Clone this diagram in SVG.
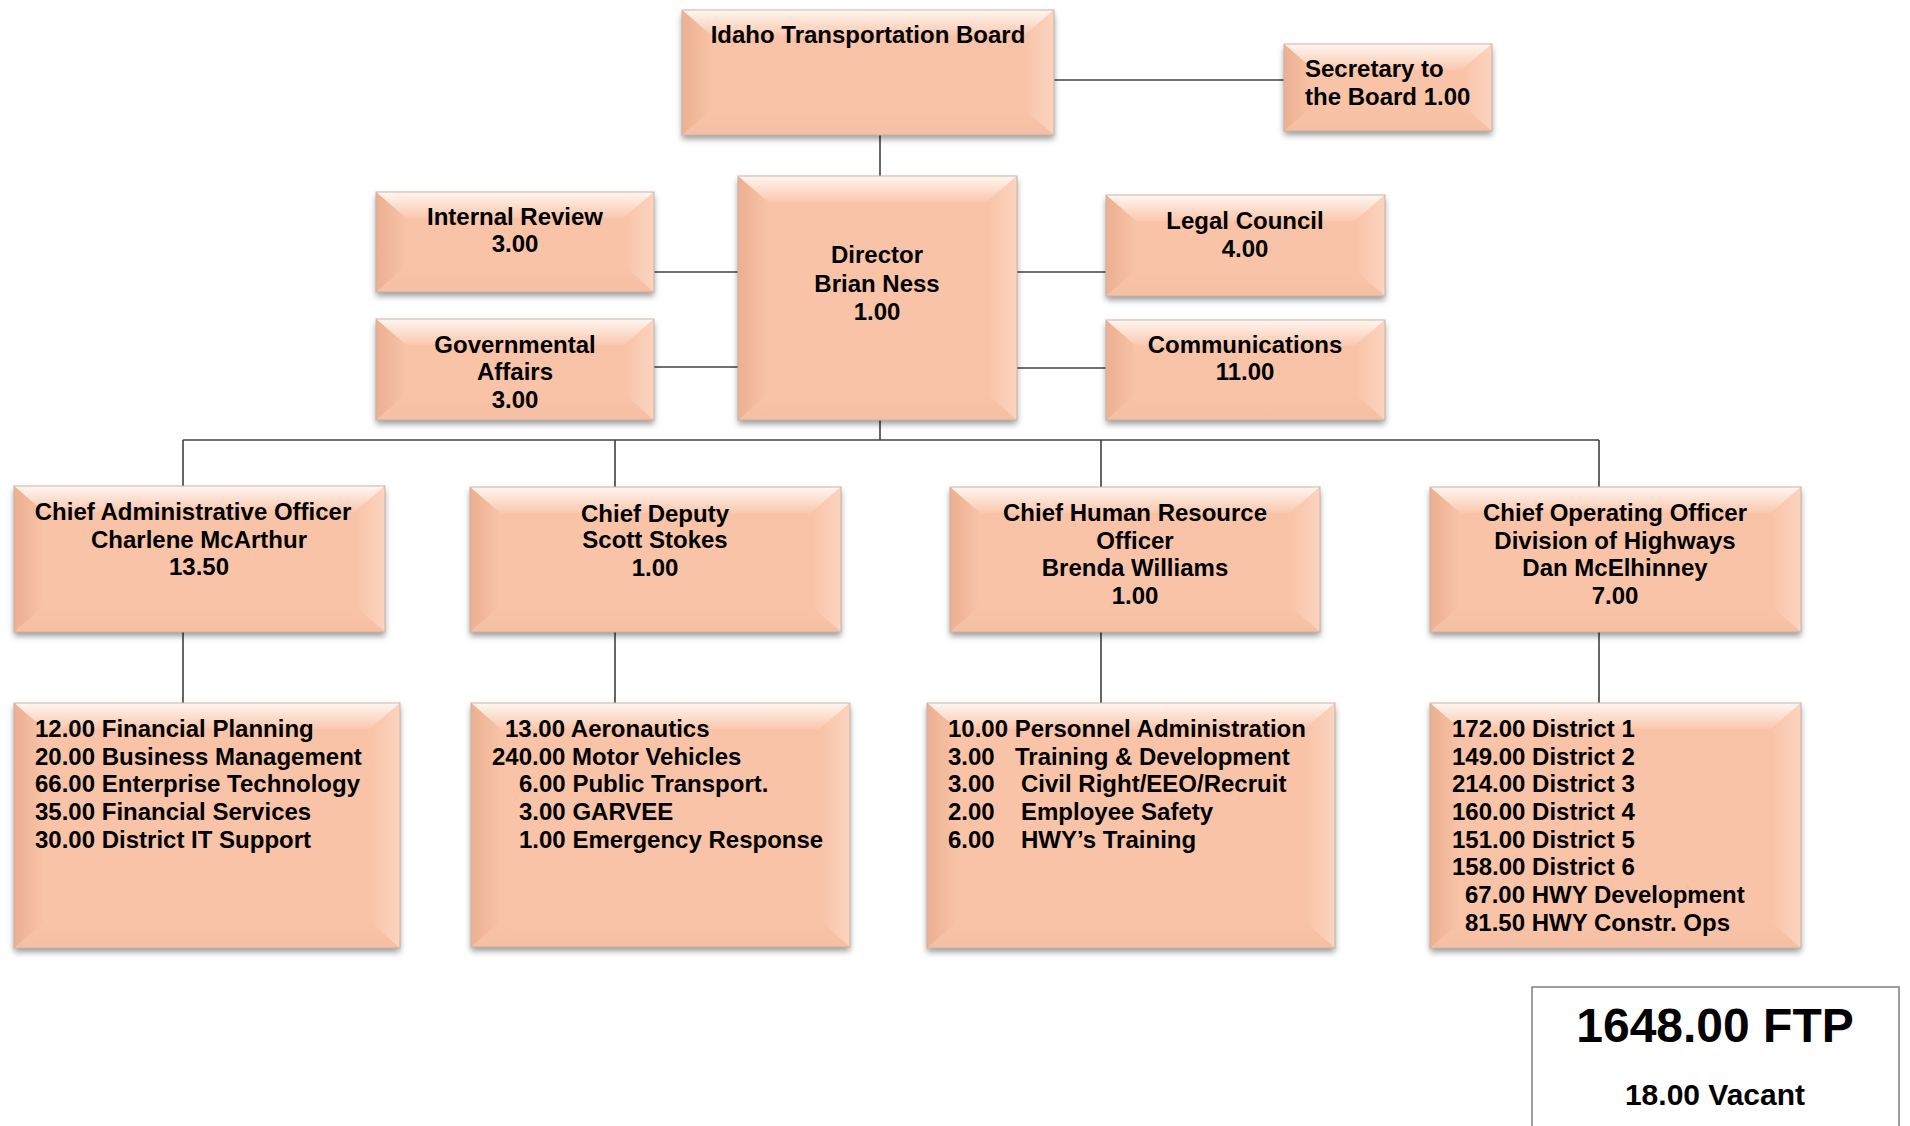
<svg xmlns="http://www.w3.org/2000/svg" width="1910" height="1126" viewBox="0 0 1910 1126">
<defs>
<filter id="sh" x="-10%" y="-10%" width="120%" height="130%">
<feDropShadow dx="0" dy="4" stdDeviation="3" flood-color="#000" flood-opacity="0.4"/>
</filter>
<linearGradient id="gT" x1="0" y1="0" x2="0" y2="1"><stop offset="0" stop-color="#FFF6F0"/><stop offset="1" stop-color="#F9C8AE"/></linearGradient>
<linearGradient id="gB" x1="0" y1="0" x2="0" y2="1"><stop offset="0" stop-color="#F8C3A7"/><stop offset="1" stop-color="#F4BFA3"/></linearGradient>
<linearGradient id="gL" x1="0" y1="0" x2="1" y2="0"><stop offset="0" stop-color="#ECAF91"/><stop offset="1" stop-color="#F8C3A7"/></linearGradient>
<linearGradient id="gR" x1="0" y1="0" x2="1" y2="0"><stop offset="0" stop-color="#F8C3A7"/><stop offset="1" stop-color="#FCD4BF"/></linearGradient>
</defs>
<style>
.base{fill:#F8C3A7;filter:url(#sh)}
.top{fill:url(#gT)}
.bot{fill:url(#gB)}
.lft{fill:url(#gL)}
.rgt{fill:url(#gR)}
.edge{fill:none;stroke:#C9B3A8;stroke-width:1}
.t{font-family:"Liberation Sans",Arial,sans-serif;font-weight:bold;font-size:24px;fill:#000}
.c{text-anchor:middle}
.ln{stroke:#404040;stroke-width:1.6;fill:none}
</style>
<rect width="1910" height="1126" fill="#fff"/>

<g id="connectors">
<line class="ln" x1="1054" y1="80" x2="1284" y2="80"/>
<line class="ln" x1="880" y1="135" x2="880" y2="176"/>
<line class="ln" x1="654" y1="272" x2="738" y2="272"/>
<line class="ln" x1="654" y1="367" x2="738" y2="367"/>
<line class="ln" x1="1017" y1="272" x2="1106" y2="272"/>
<line class="ln" x1="1017" y1="368" x2="1106" y2="368"/>
<line class="ln" x1="880" y1="420" x2="880" y2="440"/>
<line class="ln" x1="183" y1="440" x2="1599" y2="440"/>
<line class="ln" x1="183" y1="440" x2="183" y2="486"/>
<line class="ln" x1="615" y1="440" x2="615" y2="487"/>
<line class="ln" x1="1101" y1="440" x2="1101" y2="487"/>
<line class="ln" x1="1599" y1="440" x2="1599" y2="487"/>
<line class="ln" x1="183" y1="632" x2="183" y2="703"/>
<line class="ln" x1="615" y1="632" x2="615" y2="703"/>
<line class="ln" x1="1101" y1="632" x2="1101" y2="703"/>
<line class="ln" x1="1599" y1="632" x2="1599" y2="703"/>
</g>

<g id="board">
<rect class="base" x="682" y="10" width="372" height="125"/>
<polygon class="top" points="682,10 1054,10 1024,36 712,36"/>
<polygon class="bot" points="682,135 1054,135 1024,109 712,109"/>
<polygon class="lft" points="682,10 712,36 712,109 682,135"/>
<polygon class="rgt" points="1054,10 1024,36 1024,109 1054,135"/>
<rect class="edge" x="682" y="10" width="372" height="125"/>
<text class="t c" x="868" y="43">Idaho Transportation Board</text>
</g>

<g id="secretary">
<rect class="base" x="1284" y="44" width="208" height="87"/>
<polygon class="top" points="1284,44 1492,44 1462,70 1314,70"/>
<polygon class="bot" points="1284,131 1492,131 1462,105 1314,105"/>
<polygon class="lft" points="1284,44 1314,70 1314,105 1284,131"/>
<polygon class="rgt" points="1492,44 1462,70 1462,105 1492,131"/>
<rect class="edge" x="1284" y="44" width="208" height="87"/>
<text class="t" x="1305" y="77">Secretary to</text>
<text class="t" x="1305" y="105">the Board 1.00</text>
</g>

<g id="director">
<rect class="base" x="738" y="176" width="279" height="244"/>
<polygon class="top" points="738,176 1017,176 987,202 768,202"/>
<polygon class="bot" points="738,420 1017,420 987,394 768,394"/>
<polygon class="lft" points="738,176 768,202 768,394 738,420"/>
<polygon class="rgt" points="1017,176 987,202 987,394 1017,420"/>
<rect class="edge" x="738" y="176" width="279" height="244"/>
<text class="t c" x="877" y="263">Director</text>
<text class="t c" x="877" y="292">Brian Ness</text>
<text class="t c" x="877" y="320">1.00</text>
</g>

<g id="internal-review">
<rect class="base" x="376" y="192" width="278" height="100"/>
<polygon class="top" points="376,192 654,192 624,218 406,218"/>
<polygon class="bot" points="376,292 654,292 624,266 406,266"/>
<polygon class="lft" points="376,192 406,218 406,266 376,292"/>
<polygon class="rgt" points="654,192 624,218 624,266 654,292"/>
<rect class="edge" x="376" y="192" width="278" height="100"/>
<text class="t c" x="515" y="225">Internal Review</text>
<text class="t c" x="515" y="252">3.00</text>
</g>

<g id="governmental-affairs">
<rect class="base" x="376" y="319" width="278" height="101"/>
<polygon class="top" points="376,319 654,319 624,345 406,345"/>
<polygon class="bot" points="376,420 654,420 624,394 406,394"/>
<polygon class="lft" points="376,319 406,345 406,394 376,420"/>
<polygon class="rgt" points="654,319 624,345 624,394 654,420"/>
<rect class="edge" x="376" y="319" width="278" height="101"/>
<text class="t c" x="515" y="353">Governmental</text>
<text class="t c" x="515" y="380">Affairs</text>
<text class="t c" x="515" y="408">3.00</text>
</g>

<g id="legal-council">
<rect class="base" x="1106" y="195" width="279" height="101"/>
<polygon class="top" points="1106,195 1385,195 1355,221 1136,221"/>
<polygon class="bot" points="1106,296 1385,296 1355,270 1136,270"/>
<polygon class="lft" points="1106,195 1136,221 1136,270 1106,296"/>
<polygon class="rgt" points="1385,195 1355,221 1355,270 1385,296"/>
<rect class="edge" x="1106" y="195" width="279" height="101"/>
<text class="t c" x="1245" y="229">Legal Council</text>
<text class="t c" x="1245" y="257">4.00</text>
</g>

<g id="communications">
<rect class="base" x="1106" y="320" width="279" height="100"/>
<polygon class="top" points="1106,320 1385,320 1355,346 1136,346"/>
<polygon class="bot" points="1106,420 1385,420 1355,394 1136,394"/>
<polygon class="lft" points="1106,320 1136,346 1136,394 1106,420"/>
<polygon class="rgt" points="1385,320 1355,346 1355,394 1385,420"/>
<rect class="edge" x="1106" y="320" width="279" height="100"/>
<text class="t c" x="1245" y="353">Communications</text>
<text class="t c" x="1245" y="380">11.00</text>
</g>

<g id="chief-admin">
<rect class="base" x="14" y="486" width="371" height="146"/>
<polygon class="top" points="14,486 385,486 355,512 44,512"/>
<polygon class="bot" points="14,632 385,632 355,606 44,606"/>
<polygon class="lft" points="14,486 44,512 44,606 14,632"/>
<polygon class="rgt" points="385,486 355,512 355,606 385,632"/>
<rect class="edge" x="14" y="486" width="371" height="146"/>
<text class="t c" x="193" y="520">Chief Administrative Officer</text>
<text class="t c" x="199" y="548">Charlene McArthur</text>
<text class="t c" x="199" y="575">13.50</text>
</g>

<g id="chief-deputy">
<rect class="base" x="470" y="487" width="371" height="145"/>
<polygon class="top" points="470,487 841,487 811,513 500,513"/>
<polygon class="bot" points="470,632 841,632 811,606 500,606"/>
<polygon class="lft" points="470,487 500,513 500,606 470,632"/>
<polygon class="rgt" points="841,487 811,513 811,606 841,632"/>
<rect class="edge" x="470" y="487" width="371" height="145"/>
<text class="t c" x="655" y="522">Chief Deputy</text>
<text class="t c" x="655" y="548">Scott Stokes</text>
<text class="t c" x="655" y="576">1.00</text>
</g>

<g id="chief-hr">
<rect class="base" x="950" y="487" width="370" height="145"/>
<polygon class="top" points="950,487 1320,487 1290,513 980,513"/>
<polygon class="bot" points="950,632 1320,632 1290,606 980,606"/>
<polygon class="lft" points="950,487 980,513 980,606 950,632"/>
<polygon class="rgt" points="1320,487 1290,513 1290,606 1320,632"/>
<rect class="edge" x="950" y="487" width="370" height="145"/>
<text class="t c" x="1135" y="521">Chief Human Resource</text>
<text class="t c" x="1135" y="549">Officer</text>
<text class="t c" x="1135" y="576">Brenda Williams</text>
<text class="t c" x="1135" y="604">1.00</text>
</g>

<g id="coo">
<rect class="base" x="1430" y="487" width="371" height="145"/>
<polygon class="top" points="1430,487 1801,487 1771,513 1460,513"/>
<polygon class="bot" points="1430,632 1801,632 1771,606 1460,606"/>
<polygon class="lft" points="1430,487 1460,513 1460,606 1430,632"/>
<polygon class="rgt" points="1801,487 1771,513 1771,606 1801,632"/>
<rect class="edge" x="1430" y="487" width="371" height="145"/>
<text class="t c" x="1615" y="521">Chief Operating Officer</text>
<text class="t c" x="1615" y="549">Division of Highways</text>
<text class="t c" x="1615" y="576">Dan McElhinney</text>
<text class="t c" x="1615" y="604">7.00</text>
</g>

<g id="admin-units">
<rect class="base" x="14" y="703" width="386" height="245"/>
<polygon class="top" points="14,703 400,703 370,729 44,729"/>
<polygon class="bot" points="14,948 400,948 370,922 44,922"/>
<polygon class="lft" points="14,703 44,729 44,922 14,948"/>
<polygon class="rgt" points="400,703 370,729 370,922 400,948"/>
<rect class="edge" x="14" y="703" width="386" height="245"/>
<text class="t" x="35" y="737">12.00 Financial Planning</text>
<text class="t" x="35" y="765">20.00 Business Management</text>
<text class="t" x="35" y="792">66.00 Enterprise Technology</text>
<text class="t" x="35" y="820">35.00 Financial Services</text>
<text class="t" x="35" y="848">30.00 District IT Support</text>
</g>

<g id="deputy-units">
<rect class="base" x="471" y="703" width="379" height="244"/>
<polygon class="top" points="471,703 850,703 820,729 501,729"/>
<polygon class="bot" points="471,947 850,947 820,921 501,921"/>
<polygon class="lft" points="471,703 501,729 501,921 471,947"/>
<polygon class="rgt" points="850,703 820,729 820,921 850,947"/>
<rect class="edge" x="471" y="703" width="379" height="244"/>
<text class="t" x="505" y="737">13.00 Aeronautics</text>
<text class="t" x="492" y="765">240.00 Motor Vehicles</text>
<text class="t" x="519" y="792">6.00 Public Transport.</text>
<text class="t" x="519" y="820">3.00 GARVEE</text>
<text class="t" x="519" y="848">1.00 Emergency Response</text>
</g>

<g id="hr-units">
<rect class="base" x="927" y="703" width="408" height="245"/>
<polygon class="top" points="927,703 1335,703 1305,729 957,729"/>
<polygon class="bot" points="927,948 1335,948 1305,922 957,922"/>
<polygon class="lft" points="927,703 957,729 957,922 927,948"/>
<polygon class="rgt" points="1335,703 1305,729 1305,922 1335,948"/>
<rect class="edge" x="927" y="703" width="408" height="245"/>
<text class="t" x="948" y="737">10.00 Personnel Administration</text>
<text class="t" y="765"><tspan x="948">3.00</tspan><tspan x="1015">Training &amp; Development</tspan></text>
<text class="t" y="792"><tspan x="948">3.00</tspan><tspan x="1021">Civil Right/EEO/Recruit</tspan></text>
<text class="t" y="820"><tspan x="948">2.00</tspan><tspan x="1021">Employee Safety</tspan></text>
<text class="t" y="848"><tspan x="948">6.00</tspan><tspan x="1021">HWY’s Training</tspan></text>
</g>

<g id="coo-units">
<rect class="base" x="1430" y="703" width="371" height="245"/>
<polygon class="top" points="1430,703 1801,703 1771,729 1460,729"/>
<polygon class="bot" points="1430,948 1801,948 1771,922 1460,922"/>
<polygon class="lft" points="1430,703 1460,729 1460,922 1430,948"/>
<polygon class="rgt" points="1801,703 1771,729 1771,922 1801,948"/>
<rect class="edge" x="1430" y="703" width="371" height="245"/>
<text class="t" x="1452" y="737">172.00 District 1</text>
<text class="t" x="1452" y="765">149.00 District 2</text>
<text class="t" x="1452" y="792">214.00 District 3</text>
<text class="t" x="1452" y="820">160.00 District 4</text>
<text class="t" x="1452" y="848">151.00 District 5</text>
<text class="t" x="1452" y="875">158.00 District 6</text>
<text class="t" x="1465" y="903">67.00 HWY Development</text>
<text class="t" x="1465" y="931">81.50 HWY Constr. Ops</text>
</g>

<g id="totals">
<rect x="1532" y="987" width="367" height="150" fill="#fff" stroke="#7F7F7F" stroke-width="1.5"/>
<text class="t c" x="1715" y="1042" style="font-size:48px">1648.00 FTP</text>
<text class="t c" x="1715" y="1105" style="font-size:30px">18.00 Vacant</text>
</g>
</svg>
